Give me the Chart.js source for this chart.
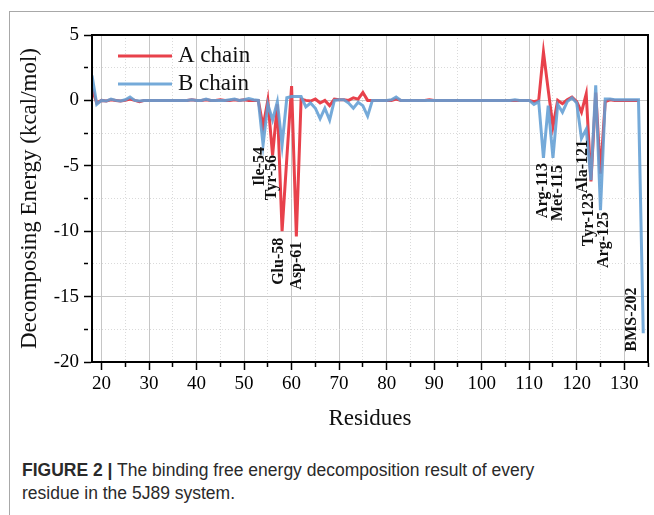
<!DOCTYPE html>
<html>
<head>
<meta charset="utf-8">
<script src="https://cdn.jsdelivr.net/npm/chart.js@4"></script>
<style>
  html, body { margin: 0; padding: 0; background: #fff; }
  body { width: 654px; height: 515px; position: relative; overflow: hidden; }
  .frame { position: absolute; left: 9px; top: 11px; right: 0; bottom: 0; border-left: 1px solid #a8a8a8; border-top: 1px solid #a8a8a8; }
  #chartBox { position: absolute; left: 0; top: 0; width: 654px; height: 440px; }
  .caption { position: absolute; left: 22px; top: 459px; width: 630px; font-family: "Liberation Sans", Arial, sans-serif; font-size: 17.5px; line-height: 23px; color: #2a2a2a; }
</style>
</head>
<body>
<div class="frame"></div>
<div id="chartBox"><canvas id="energyChart" width="654" height="440"></canvas></div>
<div class="caption"><b>FIGURE 2 |</b> The binding free energy decomposition result of every<br>residue in the 5J89 system.</div>
<script>
// residue numbers 18..134
const residues = [
  18, 19, 20, 21, 22, 23, 24, 25, 26, 27,
  28, 29, 30, 31, 32, 33, 34, 35, 36, 37,
  38, 39, 40, 41, 42, 43, 44, 45, 46, 47,
  48, 49, 50, 51, 52, 53, 54, 55, 56, 57,
  58, 59, 60, 61, 62, 63, 64, 65, 66, 67,
  68, 69, 70, 71, 72, 73, 74, 75, 76, 77,
  78, 79, 80, 81, 82, 83, 84, 85, 86, 87,
  88, 89, 90, 91, 92, 93, 94, 95, 96, 97,
  98, 99, 100, 101, 102, 103, 104, 105, 106, 107,
  108, 109, 110, 111, 112, 113, 114, 115, 116, 117,
  118, 119, 120, 121, 122, 123, 124, 125, 126, 127,
  128, 129, 130, 131, 132, 133, 134
];

// A chain, residues 18..133 (kcal/mol)
const chainA = [
  0.9, -0.2, 0, -0.05, 0.05, 0, -0.05, 0, 0.1, 0,
  -0.1, 0, 0, 0, 0, 0, 0, 0, 0, 0,
  0, 0.05, 0, 0, 0.05, 0, 0, 0.05, 0, 0,
  0.05, 0, 0.05, 0, 0, 0, -2.0, 0, -4.2, -0.3,
  -10.0, -4.4, 1.1, -10.4, 0.1, 0, -0.05, 0.1, -0.2, 0,
  -0.4, 0.1, 0.05, 0.05, 0, 0.2, 0.1, 0.6, 0, 0,
  0, 0, 0, 0, 0.1, 0, 0, 0, 0, 0,
  0, 0.05, 0, 0, 0, 0, 0, 0, 0, 0,
  0, 0, 0, 0, 0, 0, 0, 0, 0, 0,
  0, 0, 0, -0.1, 0, 3.7, 0.8, -2.0, 0, -0.25,
  0.05, 0.25, -0.1, -0.9, 0.5, -6.2, 0.6, -5.6, -0.1, 0.05,
  0, 0, 0, 0, 0, 0
];

// B chain, residues 18..134 (134 = BMS-202)
const chainB = [
  1.9, -0.3, 0, -0.05, 0.1, 0, -0.05, 0.05, 0.25, 0,
  -0.05, 0, 0, 0, 0, 0, 0, 0, 0, 0,
  0, 0.05, 0, 0, 0.1, 0, 0, 0, 0, 0.05,
  0.1, 0, 0.05, 0.15, 0.05, 0, -3.4, -0.3, -1.5, -0.1,
  -3.4, 0.2, 0.3, 0.3, 0.3, -0.5, -0.2, -0.6, -1.4, -0.6,
  -1.5, 0, 0.05, 0.05, -0.2, -0.6, -0.15, -0.4, -1.2, 0,
  0, 0, 0, 0.05, 0.25, 0, 0, 0, 0, 0,
  0, 0, 0, 0, 0, 0, 0, 0, 0, 0,
  0, 0, 0, 0, 0, 0, 0, 0, 0, 0.05,
  0, 0, 0, -0.3, -0.1, -4.4, -0.4, -4.4, -0.3, -0.9,
  -0.1, 0.2, -0.2, -2.9, -2.2, -6.1, 1.15, -8.4, 0.1, 0.1,
  0.05, 0.05, 0.05, 0.05, 0.05, 0.05, -17.8
];

// labelled hot spots: name, residue position and energy at the top of the text
const siteNames = ['Ile-54', 'Tyr-56', 'Glu-58', 'Asp-61', 'Arg-113', 'Met-115', 'Ala-121', 'Tyr-123', 'Arg-125', 'BMS-202'];
const siteResidue = [53.3, 55.9, 57.4, 61.2, 112.9, 116.0, 121.3, 122.6, 125.8, 131.7];
const siteTop = [-3.56, -4.17, -10.5, -10.8, -4.79, -4.94, -3.03, -7.08, -8.53, -14.3];

const RED = '#e8414b';
const BLUE = 'rgba(98, 158, 212, 0.88)';
const SERIF = '"Liberation Serif", "Times New Roman", serif';

const isMajorX = v => v % 10 === 0;
const isMajorY = v => v % 5 === 0;

const extras = {
    id: 'extras',
    afterDatasetsDraw(chart) {
        const { ctx, chartArea, scales: { x, y } } = chart;
        ctx.save();

        // residue labels, rotated
        ctx.font = 'bold 16px ' + SERIF;
        ctx.fillStyle = '#111';
        ctx.textAlign = 'right';
        ctx.textBaseline = 'middle';
        siteNames.forEach((name, i) => {
            ctx.save();
            ctx.translate(x.getPixelForValue(siteResidue[i]), y.getPixelForValue(siteTop[i]));
            ctx.rotate(-Math.PI / 2);
            ctx.fillText(name, 0, 0);
            ctx.restore();
        });

        // legend
        ctx.font = '23px ' + SERIF;
        ctx.textAlign = 'left';
        ctx.fillStyle = '#111';
        chart.data.datasets.forEach((ds, i) => {
            const ly = chartArea.top + 21 + i * 28;
            ctx.strokeStyle = ds.borderColor;
            ctx.lineWidth = 3;
            ctx.beginPath();
            ctx.moveTo(chartArea.left + 26, ly);
            ctx.lineTo(chartArea.left + 80, ly);
            ctx.stroke();
            ctx.fillText(ds.label, chartArea.left + 86, ly);
        });

        // plot frame
        ctx.strokeStyle = '#000';
        ctx.lineWidth = 2;
        ctx.strokeRect(chartArea.left, chartArea.top, chartArea.right - chartArea.left, chartArea.bottom - chartArea.top);
        ctx.restore();
    }
};

new Chart(document.getElementById('energyChart'), {
    type: 'line',
    data: {
        datasets: [
            {
                label: 'A chain',
                data: chainA.map((v, i) => ({ x: residues[i], y: v })),
                borderColor: RED,
                borderWidth: 3,
                pointRadius: 0,
                tension: 0,
                order: 1
            },
            {
                label: 'B chain',
                data: chainB.map((v, i) => ({ x: residues[i], y: v })),
                borderColor: BLUE,
                borderWidth: 3,
                pointRadius: 0,
                tension: 0,
                order: 0
            }
        ]
    },
    options: {
        responsive: false,
        animation: false,
        devicePixelRatio: 1,
        layout: { padding: { top: 35, right: 6, left: 0, bottom: 0 } },
        plugins: { legend: { display: false }, tooltip: { enabled: false } },
        scales: {
            x: {
                type: 'linear',
                min: 18,
                max: 135,
                afterFit: s => { s.height = 78; },
                ticks: {
                    stepSize: 5,
                    includeBounds: false,
                    autoSkip: false,
                    maxRotation: 0,
                    padding: 3,
                    color: '#000',
                    font: { family: SERIF, size: 19 },
                    callback: v => isMajorX(v) ? String(v) : ''
                },
                grid: {
                    color: c => isMajorX(c.tick.value) ? '#c6c6c6' : '#dadada',
                    lineWidth: 1,
                    tickLength: 8,
                    tickColor: '#000',
                    tickWidth: 1.5,
                    tickBorderDash: c => isMajorX(c.tick.value) ? [] : [4, 50]
                },
                border: {
                    color: '#000',
                    width: 2,
                    dash: c => (c.tick && !isMajorX(c.tick.value)) ? [1, 2] : []
                },
                title: {
                    display: true,
                    text: 'Residues',
                    color: '#111',
                    font: { family: SERIF, size: 23 },
                    padding: { top: 0, bottom: 7 }
                }
            },
            y: {
                min: -20,
                max: 5,
                afterFit: s => { s.width = 92; },
                ticks: {
                    stepSize: 2.5,
                    autoSkip: false,
                    padding: 5,
                    color: '#000',
                    font: { family: SERIF, size: 19 },
                    callback: v => isMajorY(v) ? String(v) : ''
                },
                grid: {
                    color: c => isMajorY(c.tick.value) ? '#c6c6c6' : '#dadada',
                    lineWidth: 1,
                    tickLength: 8,
                    tickColor: '#000',
                    tickWidth: 1.5,
                    tickBorderDash: c => isMajorY(c.tick.value) ? [] : [4, 50]
                },
                border: {
                    color: '#000',
                    width: 2,
                    dash: c => (c.tick && !isMajorY(c.tick.value)) ? [1, 2] : []
                },
                title: {
                    display: true,
                    text: 'Decomposing Energy (kcal/mol)',
                    color: '#111',
                    font: { family: SERIF, size: 23 },
                    padding: { top: 16, bottom: 0 }
                }
            }
        }
    },
    plugins: [extras]
});
</script>
</body>
</html>
